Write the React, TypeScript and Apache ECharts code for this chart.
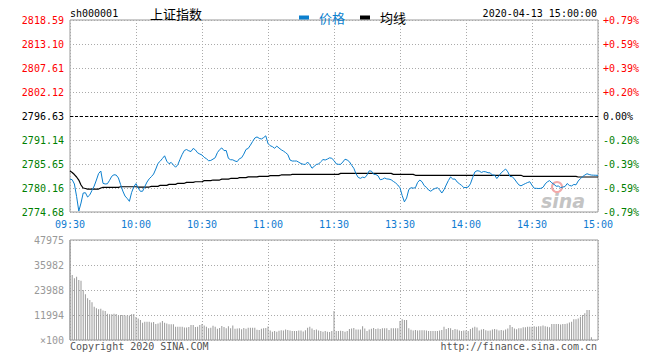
import React, { useEffect, useRef } from 'react';
import * as echarts from 'echarts';

const preClose = 2796.63;
const priceTicks = [2774.68, 2780.16, 2785.65, 2791.14, 2796.63, 2802.12, 2807.61, 2813.10, 2818.59];
const pctLabels = ['-0.79%', '-0.59%', '-0.39%', '-0.20%', '0.00%', '+0.20%', '+0.39%', '+0.59%', '+0.79%'];
const volTicks = [0, 11993.75, 23987.5, 35981.25, 47975];
const volLabels = ['×100', '11994', '23988', '35982', '47975'];

const price = [
  2782.22, 2782.06, 2781.08, 2778.22, 2774.90, 2776.73, 2779.02, 2779.09, 2778.10, 2778.60,
  2779.63, 2780.62, 2781.99, 2783.48, 2784.05, 2781.24, 2781.08, 2781.14, 2781.94, 2782.86,
  2783.20, 2783.13, 2782.47, 2780.96, 2779.47, 2778.33, 2777.78, 2777.12, 2779.13, 2780.46,
  2781.17, 2780.16, 2779.41, 2779.43, 2780.50, 2781.53, 2782.26, 2782.77, 2783.36, 2784.51,
  2785.81, 2786.29, 2786.91, 2787.53, 2786.29, 2785.72, 2786.02, 2785.44, 2784.92, 2785.49,
  2786.73, 2787.85, 2788.76, 2788.97, 2788.67, 2788.51, 2789.22, 2788.88, 2788.21, 2787.94,
  2787.71, 2787.18, 2786.86, 2786.41, 2786.47, 2786.77, 2787.09, 2788.26, 2788.94, 2789.33,
  2788.72, 2788.74, 2786.95, 2786.63, 2786.61, 2786.34, 2786.20, 2786.86, 2787.09, 2787.91,
  2788.99, 2789.22, 2789.97, 2790.80, 2791.60, 2791.85, 2791.53, 2791.37, 2791.70, 2792.10,
  2790.34, 2789.84, 2789.63, 2789.26, 2789.74, 2789.31, 2788.92, 2788.62, 2788.26, 2787.82,
  2786.57, 2786.34, 2786.34, 2786.34, 2786.06, 2785.76, 2785.60, 2785.56, 2786.11, 2785.51,
  2784.69, 2785.12, 2785.56, 2785.65, 2786.18, 2786.68, 2786.57, 2786.79, 2787.07, 2786.95,
  2786.45, 2785.70, 2785.58, 2785.58, 2786.11, 2786.75, 2786.57, 2786.18, 2785.38, 2784.69,
  2783.43, 2782.59, 2782.38, 2782.65, 2782.52, 2783.13, 2784.09, 2784.03, 2783.32, 2783.25,
  2782.97, 2782.06, 2782.17, 2782.45, 2782.24, 2782.20, 2782.04, 2781.67, 2781.33, 2780.85,
  2780.21, 2778.44, 2777.00, 2777.87, 2779.82, 2780.23, 2780.14, 2780.23, 2781.44, 2781.99,
  2781.60, 2780.71, 2780.32, 2779.70, 2779.43, 2779.84, 2780.07, 2780.23, 2779.77, 2779.02,
  2779.77, 2780.85, 2781.88, 2782.70, 2782.20, 2782.22, 2781.53, 2781.14, 2780.75, 2780.27,
  2780.27, 2780.39, 2781.12, 2782.52, 2783.82, 2784.12, 2784.05, 2783.73, 2783.93, 2783.87,
  2783.66, 2783.64, 2783.13, 2783.13, 2782.33, 2782.97, 2783.64, 2784.09, 2784.51, 2783.87,
  2782.79, 2782.77, 2782.22, 2781.53, 2780.89, 2780.66, 2780.94, 2781.19, 2781.42, 2781.60,
  2780.80, 2780.11, 2780.09, 2780.05, 2780.09, 2780.32, 2781.08, 2781.60, 2781.85, 2781.35,
  2781.01, 2780.57, 2780.62, 2780.25, 2780.39, 2780.50, 2781.19, 2780.75, 2780.64, 2780.98,
  2780.89, 2781.76, 2782.31, 2782.77, 2783.13, 2783.43, 2783.25, 2783.13, 2783.10, 2783.08,
  2783.05,
];

const avgPrice = [
  2784.05, 2783.71, 2783.25, 2782.68, 2781.99, 2780.85, 2780.16, 2780.05, 2779.93, 2779.93,
  2779.93, 2779.93, 2779.93, 2779.93, 2780.16, 2780.32, 2780.32, 2780.32, 2780.32, 2780.32,
  2780.32, 2780.32, 2780.32, 2780.46, 2780.46, 2780.46, 2780.46, 2780.46, 2780.46, 2780.46,
  2780.46, 2780.39, 2780.39, 2780.39, 2780.39, 2780.39, 2780.39, 2780.55, 2780.55, 2780.55,
  2780.55, 2780.78, 2780.78, 2780.78, 2780.78, 2781.00, 2781.00, 2781.00, 2781.00, 2781.24,
  2781.24, 2781.24, 2781.24, 2781.45, 2781.45, 2781.45, 2781.45, 2781.60, 2781.60, 2781.60,
  2781.60, 2781.85, 2781.85, 2781.85, 2781.85, 2781.99, 2781.99, 2781.99, 2781.99, 2782.20,
  2782.20, 2782.20, 2782.20, 2782.35, 2782.35, 2782.35, 2782.35, 2782.55, 2782.55, 2782.55,
  2782.55, 2782.70, 2782.70, 2782.70, 2782.70, 2782.70, 2782.84, 2782.84, 2782.84, 2782.84,
  2782.84, 2783.00, 2783.00, 2783.00, 2783.00, 2783.00, 2783.15, 2783.15, 2783.15, 2783.15,
  2783.15, 2783.29, 2783.29, 2783.29, 2783.29, 2783.29, 2783.29, 2783.29, 2783.29, 2783.29,
  2783.29, 2783.29, 2783.29, 2783.29, 2783.29, 2783.29, 2783.29, 2783.29, 2783.29, 2783.29,
  2783.29, 2783.29, 2783.29, 2783.52, 2783.52, 2783.52, 2783.52, 2783.52, 2783.52, 2783.52,
  2783.52, 2783.52, 2783.52, 2783.52, 2783.52, 2783.52, 2783.52, 2783.52, 2783.52, 2783.52,
  2783.52, 2783.52, 2783.52, 2783.52, 2783.52, 2783.52, 2783.52, 2783.29, 2783.29, 2783.29,
  2783.29, 2783.29, 2783.29, 2783.29, 2783.29, 2783.29, 2783.29, 2783.07, 2783.07, 2783.07,
  2783.07, 2783.07, 2783.07, 2783.07, 2783.07, 2783.07, 2783.07, 2783.07, 2783.07, 2783.07,
  2783.07, 2783.07, 2783.07, 2783.07, 2783.07, 2783.07, 2783.07, 2783.07, 2783.07, 2783.07,
  2783.07, 2783.07, 2783.07, 2783.07, 2783.07, 2783.07, 2783.07, 2783.07, 2783.07, 2783.07,
  2783.07, 2783.07, 2783.07, 2783.07, 2783.07, 2783.07, 2783.07, 2783.07, 2783.07, 2783.07,
  2783.07, 2783.07, 2783.07, 2783.07, 2783.07, 2783.07, 2782.84, 2782.84, 2782.84, 2782.84,
  2782.84, 2782.84, 2782.84, 2782.84, 2782.84, 2782.84, 2782.84, 2782.84, 2782.84, 2782.84,
  2782.84, 2782.84, 2782.84, 2782.84, 2782.84, 2782.84, 2782.84, 2782.84, 2782.84, 2782.84,
  2782.84, 2782.68, 2782.68, 2782.68, 2782.68, 2782.68, 2782.68, 2782.68, 2782.68, 2782.68,
  2782.68,
];

const volume = [
  47975, 31200, 29600, 30300, 28800, 28400, 24000, 22000, 20000, 19200,
  18100, 16000, 15200, 14700, 15000, 14200, 13900, 12600, 12300, 12300,
  12600, 12500, 11700, 12000, 12000, 11800, 11700, 11700, 12300, 12500,
  11000, 10300, 9600, 8300, 8800, 8800, 8700, 8400, 8600, 7700,
  7900, 8400, 9100, 8300, 7900, 7600, 7600, 7600, 6400, 6400,
  6400, 6400, 6000, 6000, 6200, 7200, 7200, 6200, 6400, 7200,
  7700, 6900, 6400, 5600, 5900, 6800, 6400, 5400, 5800, 6700,
  6200, 5600, 6600, 5600, 7000, 5400, 5500, 5600, 5200, 5800,
  5400, 5900, 5900, 5900, 5900, 4900, 4800, 5400, 5600, 5800,
  6500, 4600, 4000, 4300, 3900, 4400, 4700, 4500, 5000, 4800,
  4500, 4300, 4300, 4300, 4600, 4600, 4100, 4700, 5900, 6300,
  5500, 4800, 5000, 4600, 4300, 3900, 4300, 3900, 3800, 4300,
  13900, 4300, 4300, 4400, 4300, 4000, 4300, 5300, 5500, 5700,
  5000, 5000, 5000, 6600, 5500, 4300, 5000, 5400, 5700, 5300,
  5500, 5300, 5600, 5600, 5600, 4800, 5600, 5600, 5600, 5600,
  9100, 9900, 9600, 9600, 5600, 4900, 4500, 4800, 4500, 4700,
  4700, 4700, 4600, 4300, 4300, 4300, 4300, 4300, 4500, 4800,
  6300, 5300, 5800, 5600, 4800, 5300, 5000, 4600, 4300, 4600,
  4600, 4300, 5300, 5900, 6300, 6000, 4600, 5000, 5300, 4700,
  4400, 4600, 5000, 5300, 5000, 4600, 4800, 4500, 5000, 5500,
  7200, 6200, 5500, 5200, 5600, 5600, 6100, 6100, 6300, 6300,
  6300, 6600, 6300, 6600, 6600, 6900, 6600, 6300, 6100, 7700,
  7700, 7700, 7700, 7400, 7700, 7700, 7900, 8400, 8800, 9900,
  9900, 10300, 11200, 12000, 12800, 14400, 14400, 1300, 0, 0,
  0,
];

function buildTimes(): string[] {
  const pad = (n: number) => String(n).padStart(2, '0');
  const out: string[] = [];
  for (let m = 9 * 60 + 30; m <= 11 * 60 + 30; m++) out.push(pad(Math.floor(m / 60)) + ':' + pad(m % 60));
  for (let m = 13 * 60 + 1; m <= 15 * 60; m++) out.push(pad(Math.floor(m / 60)) + ':' + pad(m % 60));
  return out;
}
const times = buildTimes();

const MONO = '"DejaVu Sans Mono", "Liberation Mono", monospace';
const CJK = '"Noto Sans CJK SC", sans-serif';
const BLUE = '#0b7fce';
const GRID_LINE = { show: true, lineStyle: { color: '#aaa', type: [1, 2] as any, width: 1 } };

function nearestIdx(arr: number[], v: number) {
  let best = 0;
  for (let i = 1; i < arr.length; i++) if (Math.abs(arr[i] - v) < Math.abs(arr[best] - v)) best = i;
  return best;
}

export default function App() {
  const ref = useRef<HTMLDivElement>(null);
  useEffect(() => {
    if (!ref.current) return;
    const chart = echarts.init(ref.current, undefined, { renderer: 'svg' });
    const every30 = (i: number) => i % 30 === 0;
    const priceColor = (v: any) => {
      const n = Number(v);
      if (n > preClose + 0.005) return '#f00';
      if (n < preClose - 0.005) return '#008000';
      return '#000';
    };
    chart.setOption({
      animation: false,
      backgroundColor: '#fff',
      legend: {
        left: 294,
        top: 6,
        icon: 'rect',
        itemWidth: 10,
        itemHeight: 4,
        itemGap: 15,
        textStyle: { fontFamily: CJK, fontSize: 13, padding: [0, 0, 0, 5] },
        data: [
          { name: '价格', textStyle: { color: BLUE } },
          { name: '均线', textStyle: { color: '#000' } },
        ],
      },
      grid: [
        { left: 70, top: 20, width: 528, height: 192, show: true, borderColor: '#999', borderWidth: 1, backgroundColor: 'transparent' },
        { left: 70, top: 240, width: 528, height: 100, show: true, borderColor: '#999', borderWidth: 1, backgroundColor: 'transparent' },
      ],
      xAxis: [
        {
          type: 'category', gridIndex: 0, data: times, boundaryGap: false,
          axisLine: { show: false }, axisTick: { show: false },
          axisLabel: { interval: every30, color: '#0f7bd1', fontFamily: MONO, fontSize: 10, margin: 7 },
          splitLine: { ...GRID_LINE, interval: every30 },
        },
        {
          type: 'category', gridIndex: 1, data: times, boundaryGap: false,
          axisLine: { show: false }, axisTick: { show: false },
          axisLabel: { show: false },
          splitLine: { ...GRID_LINE, interval: every30 },
        },
      ],
      yAxis: [
        {
          type: 'value', gridIndex: 0, min: priceTicks[0], max: priceTicks[priceTicks.length - 1],
          axisLine: { show: false }, axisTick: { show: false, customValues: priceTicks },
          axisLabel: {
            customValues: priceTicks, fontFamily: MONO, fontSize: 10, margin: 6,
            color: priceColor,
            formatter: (v: number) => priceTicks[nearestIdx(priceTicks, v)].toFixed(2),
          },
          splitLine: GRID_LINE,
        },
        {
          type: 'value', gridIndex: 0, position: 'right', min: priceTicks[0], max: priceTicks[priceTicks.length - 1],
          axisLine: { show: false }, axisTick: { show: false, customValues: priceTicks },
          axisLabel: {
            customValues: priceTicks, fontFamily: MONO, fontSize: 10, margin: 5,
            color: priceColor,
            formatter: (v: number) => pctLabels[nearestIdx(priceTicks, v)],
          },
          splitLine: { show: false },
        },
        {
          type: 'value', gridIndex: 1, min: 0, max: volTicks[volTicks.length - 1], interval: volTicks[1],
          axisLine: { show: false }, axisTick: { show: false },
          axisLabel: {
            fontFamily: MONO, fontSize: 10, margin: 6, color: '#999',
            formatter: (v: number) => volLabels[nearestIdx(volTicks, v)],
          },
          splitLine: GRID_LINE,
        },
      ],
      series: [
        {
          name: '成交量', type: 'bar', xAxisIndex: 1, yAxisIndex: 2, data: volume,
          barWidth: 1, itemStyle: { color: '#999' }, silent: true,
        },
        {
          name: '均线', type: 'line', xAxisIndex: 0, yAxisIndex: 0, data: avgPrice,
          showSymbol: false, symbol: 'none', color: '#000', lineStyle: { color: '#000', width: 1.2 }, z: 3,
        },
        {
          name: '价格', type: 'line', xAxisIndex: 0, yAxisIndex: 0, data: price,
          showSymbol: false, symbol: 'none', color: BLUE, lineStyle: { color: BLUE, width: 1 }, z: 4,
          markLine: {
            silent: true, symbol: 'none', label: { show: false },
            lineStyle: { color: '#000', type: [3, 2], width: 1 },
            data: [{ yAxis: preClose }],
          },
        },
      ],
      graphic: [
        { type: 'text', x: 70, y: 13, z: 10, style: { text: 'sh000001', fill: '#000', font: '10px ' + MONO, verticalAlign: 'middle' } },
        { type: 'text', x: 150, y: 13, z: 10, style: { text: '上证指数', fill: '#000', font: '13px ' + CJK, verticalAlign: 'middle' } },
        { type: 'text', x: 597, y: 13, z: 10, style: { text: '2020-04-13 15:00:00', fill: '#000', font: '10px ' + MONO, align: 'right', verticalAlign: 'middle' } },
        { type: 'text', x: 70, y: 346, z: 10, style: { text: 'Copyright 2020 SINA.COM', fill: '#555', font: '10px ' + MONO, verticalAlign: 'middle' } },
        { type: 'text', x: 597, y: 346, z: 10, style: { text: 'http://finance.sina.com.cn', fill: '#555', font: '10px ' + MONO, align: 'right', verticalAlign: 'middle' } },
        { type: 'circle', z: 0, shape: { cx: 557, cy: 187, r: 5 }, style: { fill: 'none', stroke: '#f2a9a9', lineWidth: 2 } },
        { type: 'text', x: 541, y: 201, z: 0, style: { text: 'sina', fill: '#c4c4c4', font: 'italic bold 19px "DejaVu Sans", sans-serif', verticalAlign: 'middle' } },
      ],
    });
    return () => chart.dispose();
  }, []);
  return <div ref={ref} style={{ position: 'absolute', left: 0, top: 0, width: 660, height: 360 }} />;
}
